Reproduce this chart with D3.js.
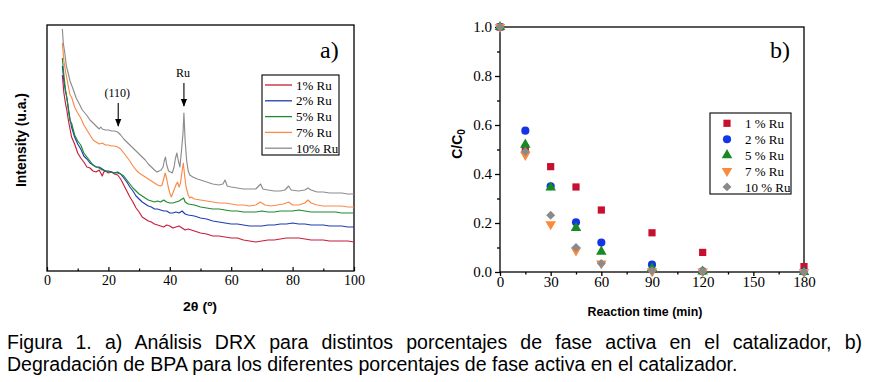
<!DOCTYPE html>
<html><head><meta charset="utf-8">
<script src="https://cdn.jsdelivr.net/npm/d3@7"></script>
<style>
html,body{margin:0;padding:0;background:#fff;}
svg{display:block;}
</style></head>
<body>
<svg id="c" width="871" height="382"></svg>
<script>
// ---------- DATA ----------
// Panel a) XRD patterns: [2theta (deg), intensity (a.u.)]
const xrdLabels = ["1% Ru","2% Ru","5% Ru","7% Ru","10% Ru"];
const xrd1 = [[5,196],[5.5,178],[6,168],[6.5,160],[7,150],[7.5,142],[8,134],[9,127],[10,118],[11,113],[12,109],[13,104],[14,103],[15,100],[16,99],[17,101],[18,95],[18.5,99],[19,100],[20,98],[21,99],[22,97],[23,96],[24,92],[25,86],[26,80],[27,74],[28,69],[29,63],[30,59],[31,54],[32,52],[33,50],[34,49],[35,47],[36,46],[37,45],[38,44],[39,46],[40,45],[41,43],[42,44],[43,45],[44,43],[45,41],[46,42],[48,40],[50,38],[52,37],[54,35],[56,35],[58,34],[60,33],[62,33],[64,31],[66,30],[68,29],[70,30],[72,31],[74,31],[76,32],[78,33],[80,33],[82,33],[84,32],[86,31],[88,31],[90,31],[92,30],[94,30],[96,30],[98,30],[100,29]];
const xrd2 = [[5,205],[5.5,190],[6,180],[6.5,173],[7,162],[7.5,152],[8,144],[9,134],[10,127],[11,122],[12,115],[13,112],[14,108],[15,106],[16,104],[17,104],[18,102],[19,100],[20,100],[21,99],[22,98],[23,99],[24,97],[25,93],[26,89],[27,84],[28,80],[29,75],[30,72],[31,69],[32,67],[33,65],[34,64],[35,62],[36,62],[37,61],[38,60],[39,60],[40,58],[41,58],[42,59],[43,58],[44,60],[45,57],[46,56],[48,55],[50,53],[52,52],[54,50],[56,49],[58,48],[60,47],[62,47],[64,46],[66,45],[68,45],[70,45],[72,46],[74,46],[76,47],[78,47],[80,48],[82,47],[84,47],[86,46],[88,46],[90,46],[92,45],[94,45],[96,45],[98,44],[100,44]];
const xrd5 = [[5,213],[5.5,196],[6,182],[6.5,172],[7,160],[7.5,150],[8,148],[9,136],[10,130],[11,126],[12,118],[13,114],[14,110],[15,106],[16,104],[17,103],[18,101],[19,100],[20,99],[21,99],[22,98],[23,98],[24,97],[25,95],[26,91],[27,87],[28,83],[29,80],[30,77],[31,75],[32,73],[33,71],[34,70],[35,69],[36,70],[37,69],[38,71],[39,69],[40,68],[41,68],[42,69],[43,70],[44,72],[44.5,73],[45,69],[46,67],[48,66],[50,64],[52,63],[54,62],[56,62],[58,61],[60,60],[62,60],[64,59],[66,59],[68,59],[70,60],[72,59],[74,59],[76,60],[78,60],[80,60],[82,61],[84,60],[86,59],[88,59],[90,59],[92,59],[94,59],[96,58],[98,58],[100,58]];
const xrd7 = [[5,228],[5.5,210],[6,200],[6.5,192],[7,184],[7.5,176],[8,174],[9,164],[10,158],[11,153],[12,146],[13,141],[14,136],[15,131],[16,129],[17,127],[18,128],[19,126],[20,126],[21,125],[22,125],[23,124],[24,122],[25,118],[26,114],[27,110],[28,105],[29,101],[30,98],[31,96],[32,94],[33,92],[34,90],[35,88],[36,86],[37,85],[37.5,86],[38,92],[38.5,98],[39,92],[39.5,84],[40,78],[40.5,74],[41,78],[41.5,82],[42,86],[42.5,89],[43,84],[43.5,88],[44,100],[44.4,108],[44.8,96],[45.3,84],[46,76],[46.5,73],[47,74],[48,72],[50,71],[52,70],[54,69],[56,68],[58,68],[60,67],[62,66],[64,66],[66,65],[68,66],[69.5,69],[71,66],[73,65],[75,66],[77,67],[78.7,69],[80,66],[82,66],[84,68],[85,71],[86,68],[88,66],[90,65],[92,65],[94,65],[96,65],[98,64],[100,64]];
const xrd10 = [[5,242],[5.3,228],[5.8,218],[6.3,205],[6.9,198],[7.5,190],[8,186],[8.6,181],[9.5,173],[10.7,166],[11.5,161],[12.9,156],[14,151],[15,148],[16,145],[17,142],[17.5,144],[18,142],[19,141],[20,141],[21,140],[22,140],[23,139],[24,136],[25,132],[26,129],[27,126],[28,123],[29,120],[30,117],[31,114],[32,111],[33,107],[34,104],[35,101],[35.8,99],[36.5,100],[37.2,101],[37.8,104],[38.2,110],[38.6,114],[39,106],[39.6,100],[40.2,99],[40.8,98],[41.4,104],[41.8,112],[42.3,118],[42.8,110],[43.3,104],[43.8,120],[44.3,138],[44.6,158],[45,130],[45.5,110],[46,100],[46.5,96],[47.5,94],[49,92],[50,91],[52,89],[54,87],[56,86],[57.3,87],[58,91],[58.7,85],[60,84],[62,83],[64,82],[66,82],[68,82],[69.6,87],[70.3,82],[72,81],[74,80],[76,80],[77.5,81],[78.7,85],[79.5,81],[82,80],[84,81],[85,83],[86,81],[88,79],[90,79],[92,78],[94,78],[96,78],[98,77],[100,77]];
const xrdTicks = [0,20,40,60,80,100];
const xrdMinor = [10,30,50,70,90];
const annotations = [{label:"(110)", x:23.2, y:145}, {label:"Ru", x:44.6, y:165}];

// Panel b) degradation: C/C0 vs reaction time (min)
const times = [0,15,30,45,60,90,120,180];
const degLabels = ["1 % Ru","2 % Ru","5 % Ru","7 % Ru","10 % Ru"];
const deg1  = [1.0,0.505,0.43,0.347,0.253,0.16,0.08,0.022];
const deg2  = [1.0,0.577,0.35,0.203,0.12,0.03,0.003,0.002];
const deg5  = [1.0,0.52,0.345,0.18,0.083,0.015,0.002,0.0];
const deg7  = [1.0,0.478,0.195,0.088,0.035,0.003,0.002,0.0];
const deg10 = [1.0,0.492,0.232,0.1,0.035,0.005,0.002,0.0];
const timeTicks = [0,30,60,90,120,150,180];
const timeMinor = [15,45,75,105,135,165];
const ccTicks = [0,0.2,0.4,0.6,0.8,1.0];
const ccMinor = [0.1,0.3,0.5,0.7,0.9];

const caption1 = "Figura 1. a) Análisis DRX para distintos porcentajes de fase activa en el catalizador, b)";
const caption2 = "Degradación de BPA para los diferentes porcentajes de fase activa en el catalizador.";

// ---------- STYLE ----------
const lineColors = ["#c81d3a","#1f3cb4","#1e8a30","#f98a4a","#8c8c8c"];
const markColors = ["#c8102e","#1434e8","#178a22","#fa8a3a","#8a8a8a"];
const serif = "'Liberation Serif','Times New Roman',serif";
const sans = "'Liberation Sans',Arial,sans-serif";

const svg = d3.select("#c");

// ---------- PANEL A ----------
const ax = d3.scaleLinear().domain([0,100]).range([47,354]);
const ay = d3.scaleLinear().domain([0,246]).range([271,25]);
const gA = svg.append("g");

gA.append("rect").attr("x",ax(0)).attr("y",ay(246)).attr("width",ax(100)-ax(0)).attr("height",ay(0)-ay(246))
  .attr("fill","none").attr("stroke","#000").attr("stroke-width",1.3);

const axA = gA.append("g").attr("transform",`translate(0,${ay(0)})`)
  .call(d3.axisBottom(ax).tickValues(xrdTicks).tickSize(-4).tickPadding(4).tickFormat(d3.format("d")));
axA.select(".domain").remove();
axA.selectAll("text").attr("font-family",serif).attr("font-size",14).attr("fill","#000");
axA.selectAll("line").attr("stroke-width",1.2);
gA.append("g").attr("transform",`translate(0,${ay(0)})`)
  .call(d3.axisBottom(ax).tickValues(xrdMinor).tickSize(-2.5).tickFormat(""))
  .call(g=>g.select(".domain").remove()).selectAll("line").attr("stroke-width",1.2);

const lineA = d3.line().x(d=>ax(d[0])).y(d=>ay(d[1]));
[xrd1,xrd2,xrd5,xrd7,xrd10].forEach((s,i)=>{
  gA.append("path").datum(s).attr("d",lineA).attr("fill","none")
    .attr("stroke",lineColors[i]).attr("stroke-width",1.15).attr("stroke-linejoin","round");
});

// annotations with arrows
svg.append("defs").append("marker").attr("id","ah").attr("viewBox","0 0 10 10")
  .attr("refX",9).attr("refY",5).attr("markerWidth",7).attr("markerHeight",7).attr("orient","auto")
  .append("path").attr("d","M0,1 L10,5 L0,9 z").attr("fill","#000");
annotations.forEach(a=>{
  const px = ax(a.x), py = ay(a.y);
  gA.append("line").attr("x1",px).attr("x2",px).attr("y1",py-23).attr("y2",py)
    .attr("stroke","#000").attr("stroke-width",1.1).attr("marker-end","url(#ah)");
  gA.append("text").attr("x",px-1).attr("y",py-29).attr("text-anchor","middle")
    .attr("font-family",serif).attr("font-size",12).text(a.label);
});

gA.append("text").attr("x",320).attr("y",58).attr("font-family",serif).attr("font-size",24).text("a)");

// legend a
const legA = gA.append("g");
legA.append("rect").attr("x",262).attr("y",75).attr("width",77).attr("height",80)
  .attr("fill","#fff").attr("stroke","#000").attr("stroke-width",1.1);
xrdLabels.forEach((l,i)=>{
  const yy = 85 + i*15.8;
  legA.append("line").attr("x1",265).attr("x2",292).attr("y1",yy).attr("y2",yy)
    .attr("stroke",lineColors[i]).attr("stroke-width",1.3);
  legA.append("text").attr("x",296).attr("y",yy+4.5).attr("font-family",serif).attr("font-size",13).text(l);
});

// axis titles a
gA.append("text").attr("transform","translate(26,140) rotate(-90)").attr("text-anchor","middle")
  .attr("font-family",sans).attr("font-weight","bold").attr("font-size",14)
  .attr("textLength",94).attr("lengthAdjust","spacingAndGlyphs").text("Intensity (u.a.)");
gA.append("text").attr("x",200).attr("y",311).attr("text-anchor","middle")
  .attr("font-family",sans).attr("font-weight","bold").attr("font-size",13)
  .attr("textLength",34).attr("lengthAdjust","spacingAndGlyphs").text("2θ (º)");

// ---------- PANEL B ----------
const bx = d3.scaleLinear().domain([0,180]).range([500,804]);
const by = d3.scaleLinear().domain([0,1]).range([272,27]);
const gB = svg.append("g");

gB.append("rect").attr("x",bx(0)).attr("y",by(1)).attr("width",bx(180)-bx(0)).attr("height",by(0)-by(1))
  .attr("fill","none").attr("stroke","#000").attr("stroke-width",1.3);

const bxa = gB.append("g").attr("transform",`translate(0,${by(0)})`)
  .call(d3.axisBottom(bx).tickValues(timeTicks).tickSize(4).tickPadding(0).tickFormat(d3.format("d")));
bxa.select(".domain").remove();
bxa.selectAll("text").attr("font-family",serif).attr("font-size",15).attr("fill","#000");
bxa.selectAll("line").attr("stroke-width",1.3);
gB.append("g").attr("transform",`translate(0,${by(0)})`)
  .call(d3.axisBottom(bx).tickValues(timeMinor).tickSize(2.5).tickFormat(""))
  .call(g=>g.select(".domain").remove()).selectAll("line").attr("stroke-width",1.3);

const bya = gB.append("g").attr("transform",`translate(${bx(0)},0)`)
  .call(d3.axisLeft(by).tickValues(ccTicks).tickSize(5).tickPadding(3).tickFormat(d3.format(".1f")));
bya.select(".domain").remove();
bya.selectAll("text").attr("font-family",serif).attr("font-size",15).attr("fill","#000");
bya.selectAll("line").attr("stroke-width",1.3);
gB.append("g").attr("transform",`translate(${bx(0)},0)`)
  .call(d3.axisLeft(by).tickValues(ccMinor).tickSize(3).tickFormat(""))
  .call(g=>g.select(".domain").remove()).selectAll("line").attr("stroke-width",1.3);

const symbols = [
  d3.symbol().type(d3.symbolSquare).size(52),
  d3.symbol().type(d3.symbolCircle).size(52),
  d3.symbol().type(d3.symbolTriangle).size(48),
  d3.symbol().type(d3.symbolTriangle).size(48),
  d3.symbol().type(d3.symbolSquare).size(40)
];
const rot = [0,0,0,180,45];
[deg1,deg2,deg5,deg7,deg10].forEach((s,i)=>{
  gB.append("g").selectAll("path").data(s).join("path")
    .attr("d",symbols[i]())
    .attr("transform",(d,j)=>`translate(${bx(times[j])},${by(d)}) rotate(${rot[i]})`)
    .attr("fill",markColors[i]);
});

gB.append("text").attr("x",770).attr("y",58).attr("font-family",serif).attr("font-size",24).text("b)");

// legend b
const legB = gB.append("g");
legB.append("rect").attr("x",710).attr("y",113).attr("width",81).attr("height",81)
  .attr("fill","#fff").attr("stroke","#000").attr("stroke-width",1.1);
degLabels.forEach((l,i)=>{
  const yy = 123.3 + i*15.9;
  legB.append("path").attr("d",symbols[i]()).attr("transform",`translate(727,${yy}) rotate(${rot[i]})`)
    .attr("fill",markColors[i]);
  legB.append("text").attr("x",745).attr("y",yy+4.7).attr("font-family",serif).attr("font-size",13).text(l);
});

// axis titles b
const cc = gB.append("text").attr("transform","translate(462,144) rotate(-90)").attr("text-anchor","middle")
  .attr("font-family",sans).attr("font-weight","bold").attr("font-size",14);
cc.append("tspan").text("C/C");
cc.append("tspan").attr("font-size",10).attr("dy",3).text("0");
gB.append("text").attr("x",645).attr("y",316).attr("text-anchor","middle")
  .attr("font-family",sans).attr("font-weight","bold").attr("font-size",13)
  .attr("textLength",115).attr("lengthAdjust","spacingAndGlyphs").text("Reaction time (min)");

// ---------- CAPTION ----------
const c2 = svg.append("text").attr("x",7).attr("y",370.5).attr("font-family",sans).attr("font-size",17.5).text(caption2);
const fs = 17.5 * (738-7) / c2.node().getComputedTextLength();
c2.attr("font-size",fs);
const c1 = svg.append("text").attr("x",7).attr("y",348.5).attr("font-family",sans).attr("font-size",fs).text(caption1);
const nat = c1.node().getComputedTextLength();
const nSp = caption1.split(" ").length-1;
c1.attr("word-spacing",Math.max(0,((862-7)-nat)/nSp));
</script>
</body></html>
